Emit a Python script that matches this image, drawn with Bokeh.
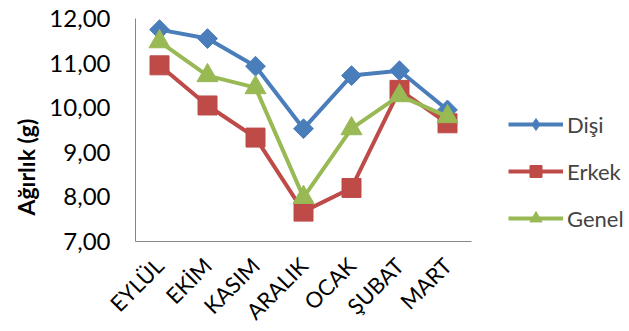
from bokeh.plotting import figure
from bokeh.models import FactorRange, Range1d, FixedTicker, Legend, LegendItem, Title, ColumnDataSource
from bokeh.embed import file_html
from bokeh.resources import INLINE
import math

months = ["EYLÜL", "EKİM", "KASIM", "ARALIK", "OCAK", "ŞUBAT", "MART"]
disi = [11.75, 11.55, 10.93, 9.53, 10.72, 10.83, 9.95]
erkek = [10.95, 10.05, 9.33, 7.67, 8.20, 10.40, 9.65]
genel = [11.48, 10.72, 10.45, 7.99, 9.53, 10.27, 9.80]
yticks = [7, 8, 9, 10, 11, 12]
ylabels = {t: f"{t:.2f}".replace(".", ",") for t in yticks}

FONT = "Lato"
p = figure(frame_width=336, frame_height=223, output_backend="svg", toolbar_location=None,
           x_range=FactorRange(*months, range_padding=0), y_range=Range1d(7, 12),
           min_border_left=135, min_border_right=158, min_border_top=18, min_border_bottom=90)
p.outline_line_color = None
p.xgrid.visible = False
p.ygrid.visible = False
p.background_fill_color = "white"
p.border_fill_color = "white"

for ax in (p.xaxis[0], p.yaxis[0]):
    ax.axis_line_color = "#868686"
    ax.axis_line_width = 1
    ax.major_tick_line_color = None
    ax.minor_tick_line_color = None
    ax.major_tick_out = 0
    ax.major_tick_in = 0
    ax.minor_tick_out = 0
    ax.major_label_text_font = FONT
    ax.major_label_text_color = "#000000"

p.yaxis.ticker = FixedTicker(ticks=yticks)
p.yaxis.major_label_overrides = ylabels
p.yaxis.major_label_text_font_size = "24px"
p.yaxis.major_label_standoff = 25

title = Title(text="Ağırlık (g)", align="left", offset=26, standoff=14,
              text_font=FONT, text_font_size="23px", text_font_style="bold",
              text_color="#000000")
p.add_layout(title, "left")

p.xaxis.major_label_orientation = 0.785398
p.xaxis.major_label_text_font_size = "22px"
p.xaxis.major_label_standoff = 20

BLUE, RED, GREEN = "#4A7EBB", "#BE4B48", "#98B954"
l1 = p.line(months, disi, line_color=BLUE, line_width=4)
p.scatter(months, disi, marker="square", angle=math.pi / 4, size=14, fill_color=BLUE, line_color=BLUE)
l2 = p.line(months, erkek, line_color=RED, line_width=4)
p.scatter(months, erkek, marker="square", size=19, fill_color=RED, line_color=RED)
l3 = p.line(months, genel, line_color=GREEN, line_width=4)
p.scatter(months, genel, marker="triangle", size=21, fill_color=GREEN, line_color=GREEN)

# legend-only marker renderers (no visible points)
hidden = ColumnDataSource(data=dict(x=[months[0]], y=[float("nan")]))
lm1 = p.scatter("x", "y", source=hidden, marker="diamond", size=15, fill_color=BLUE, line_color=BLUE)
lm2 = p.scatter("x", "y", source=hidden, marker="square", size=13, fill_color=RED, line_color=RED)
lm3 = p.scatter("x", "y", source=hidden, marker="triangle", size=15, fill_color=GREEN, line_color=GREEN)

legend = Legend(items=[LegendItem(label="Dişi", renderers=[l1, lm1]),
                       LegendItem(label="Erkek", renderers=[l2, lm2]),
                       LegendItem(label="Genel", renderers=[l3, lm3])],
                location=(37, 8), orientation="vertical",
                glyph_width=55, glyph_height=30, spacing=17, label_standoff=4,
                label_text_font=FONT, label_text_font_size="22px",
                border_line_color=None, background_fill_alpha=0, padding=0, margin=0)
p.add_layout(legend, "right")

open("out.html", "w").write(file_html(p, INLINE))
